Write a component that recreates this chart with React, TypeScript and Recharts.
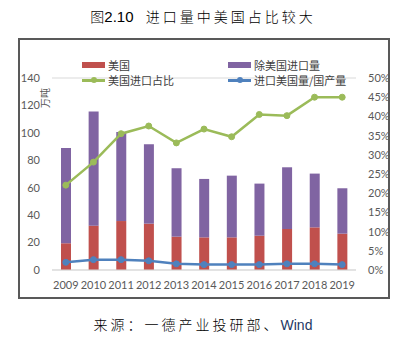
import React from "react";
import { ComposedChart, Bar, Line, XAxis, YAxis, CartesianGrid } from "recharts";

const years = ["2009", "2010", "2011", "2012", "2013", "2014", "2015", "2016", "2017", "2018", "2019"];
const usImports = [19.5, 32.3, 35.7, 33.8, 24.3, 23.8, 23.8, 25, 29.9, 31.1, 26.5]; // 万吨
const otherImports = [69.5, 83.2, 64.9, 57.9, 49.9, 42.6, 45, 38, 45, 39.2, 33.1];
const usShare = [22.1, 28.1, 35.5, 37.5, 33.1, 36.7, 34.7, 40.5, 40.2, 45, 45]; // %
const importToOutput = [2.0, 2.7, 2.7, 2.4, 1.6, 1.4, 1.4, 1.4, 1.6, 1.6, 1.4]; // %
const leftTicks = [0, 20, 40, 60, 80, 100, 120, 140];
const rightTicks = [0, 5, 10, 15, 20, 25, 30, 35, 40, 45, 50];

const RED = "#C0504D";
const PURPLE = "#8064A2";
const GREEN = "#9BBB59";
const BLUE = "#4F81BD";
const TICK_FONT = '"Lato", "Noto Sans CJK SC", sans-serif';
const CJK_FONT = '"Noto Sans CJK SC", sans-serif';
const LATIN_FONT = '"Liberation Sans", sans-serif';

const data = years.map((year, i) => ({
  year,
  us: usImports[i],
  other: otherImports[i],
  share: usShare[i],
  ratio: importToOutput[i],
}));

function LegendItem({ x, y, color, label, line }: { x: number; y: number; color: string; label: string; line?: boolean }) {
  return (
    <div style={{ position: "absolute", left: x, top: y - 7, height: 14, display: "flex", alignItems: "center" }}>
      <div style={{ position: "relative", width: 23, height: 14, marginRight: 3 }}>
        {line ? (
          <>
            <div style={{ position: "absolute", left: 0, top: 6, width: 23, height: 2.5, background: color }} />
            <div style={{ position: "absolute", left: 9, top: 4, width: 6, height: 6, borderRadius: 3, background: color }} />
          </>
        ) : (
          <div style={{ position: "absolute", left: 0, top: 4, width: 23, height: 6, background: color }} />
        )}
      </div>
      <span style={{ fontFamily: CJK_FONT, fontSize: 11, color: "#404040", whiteSpace: "nowrap" }}>{label}</span>
    </div>
  );
}

export default function App() {
  return (
    <div style={{ position: "absolute", left: 0, top: 0, width: 406, height: 346, background: "#fff" }}>
      <div
        style={{
          position: "absolute",
          left: 0,
          top: 6,
          width: 406,
          textAlign: "center",
          fontFamily: CJK_FONT,
          fontSize: 14,
          fontWeight: 300,
          letterSpacing: 3,
          color: "#000",
        }}
      >
        <span style={{ letterSpacing: 0 }}>
          图<span style={{ fontFamily: LATIN_FONT, fontSize: 15 }}>2.10</span>
        </span>
        &nbsp;&nbsp;进口量中美国占比较大
      </div>
      <div style={{ position: "absolute", left: 18, top: 38, width: 372, height: 261, border: "2px solid #595959", boxSizing: "border-box" }} />

      <ComposedChart
        width={406}
        height={346}
        data={data}
        margin={{ top: 78, right: 10, bottom: 56, left: 22 }}
        style={{ position: "absolute", left: 0, top: 0 }}
      >
        <CartesianGrid vertical={false} stroke="#D9D9D9" />
        <XAxis
          dataKey="year"
          height={20}
          tickLine={false}
          axisLine={{ stroke: "#D9D9D9" }}
          tickMargin={5}
          interval={0}
          tick={{ fill: "#595959", fontSize: 11, fontFamily: TICK_FONT }}
        />
        <YAxis
          yAxisId="left"
          width={30}
          domain={[0, 140]}
          ticks={leftTicks}
          axisLine={false}
          tickLine={false}
          tickMargin={6}
          tick={{ fill: "#595959", fontSize: 11, fontFamily: TICK_FONT }}
        />
        <YAxis
          yAxisId="right"
          orientation="right"
          width={40}
          domain={[0, 50]}
          ticks={rightTicks}
          axisLine={false}
          tickLine={false}
          tickMargin={6}
          tickFormatter={(v: number) => `${v}%`}
          tick={{ fill: "#595959", fontSize: 11, fontFamily: TICK_FONT }}
        />
        <Bar yAxisId="left" dataKey="us" stackId="a" fill={RED} barSize={10} isAnimationActive={false} />
        <Bar yAxisId="left" dataKey="other" stackId="a" fill={PURPLE} barSize={10} isAnimationActive={false} />
        <Line
          yAxisId="right"
          dataKey="share"
          stroke={GREEN}
          strokeWidth={2.5}
          dot={{ r: 3, fill: GREEN, stroke: GREEN, strokeWidth: 1 }}
          isAnimationActive={false}
        />
        <Line
          yAxisId="right"
          dataKey="ratio"
          stroke={BLUE}
          strokeWidth={2.5}
          dot={{ r: 3, fill: BLUE, stroke: BLUE, strokeWidth: 1 }}
          isAnimationActive={false}
        />
      </ComposedChart>

      <div
        style={{
          position: "absolute",
          left: 44,
          top: 98,
          transform: "translate(-50%, -50%) rotate(-90deg)",
          fontFamily: CJK_FONT,
          fontSize: 10,
          color: "#595959",
          whiteSpace: "nowrap",
        }}
      >
        万吨
      </div>

      <LegendItem x={82} y={65} color={RED} label="美国" />
      <LegendItem x={228} y={65} color={PURPLE} label="除美国进口量" />
      <LegendItem x={82} y={80} color={GREEN} label="美国进口占比" line />
      <LegendItem x={228} y={80} color={BLUE} label="进口美国量/国产量" line />

      <div
        style={{
          position: "absolute",
          left: 0,
          top: 314,
          width: 406,
          textAlign: "center",
          fontFamily: CJK_FONT,
          fontSize: 14,
          fontWeight: 300,
          letterSpacing: 3,
          color: "#000",
        }}
      >
        来源：一德产业投研部、
        <span style={{ fontFamily: LATIN_FONT, fontWeight: 400, letterSpacing: 0, color: "#1F3864" }}>Wind</span>
      </div>
    </div>
  );
}
